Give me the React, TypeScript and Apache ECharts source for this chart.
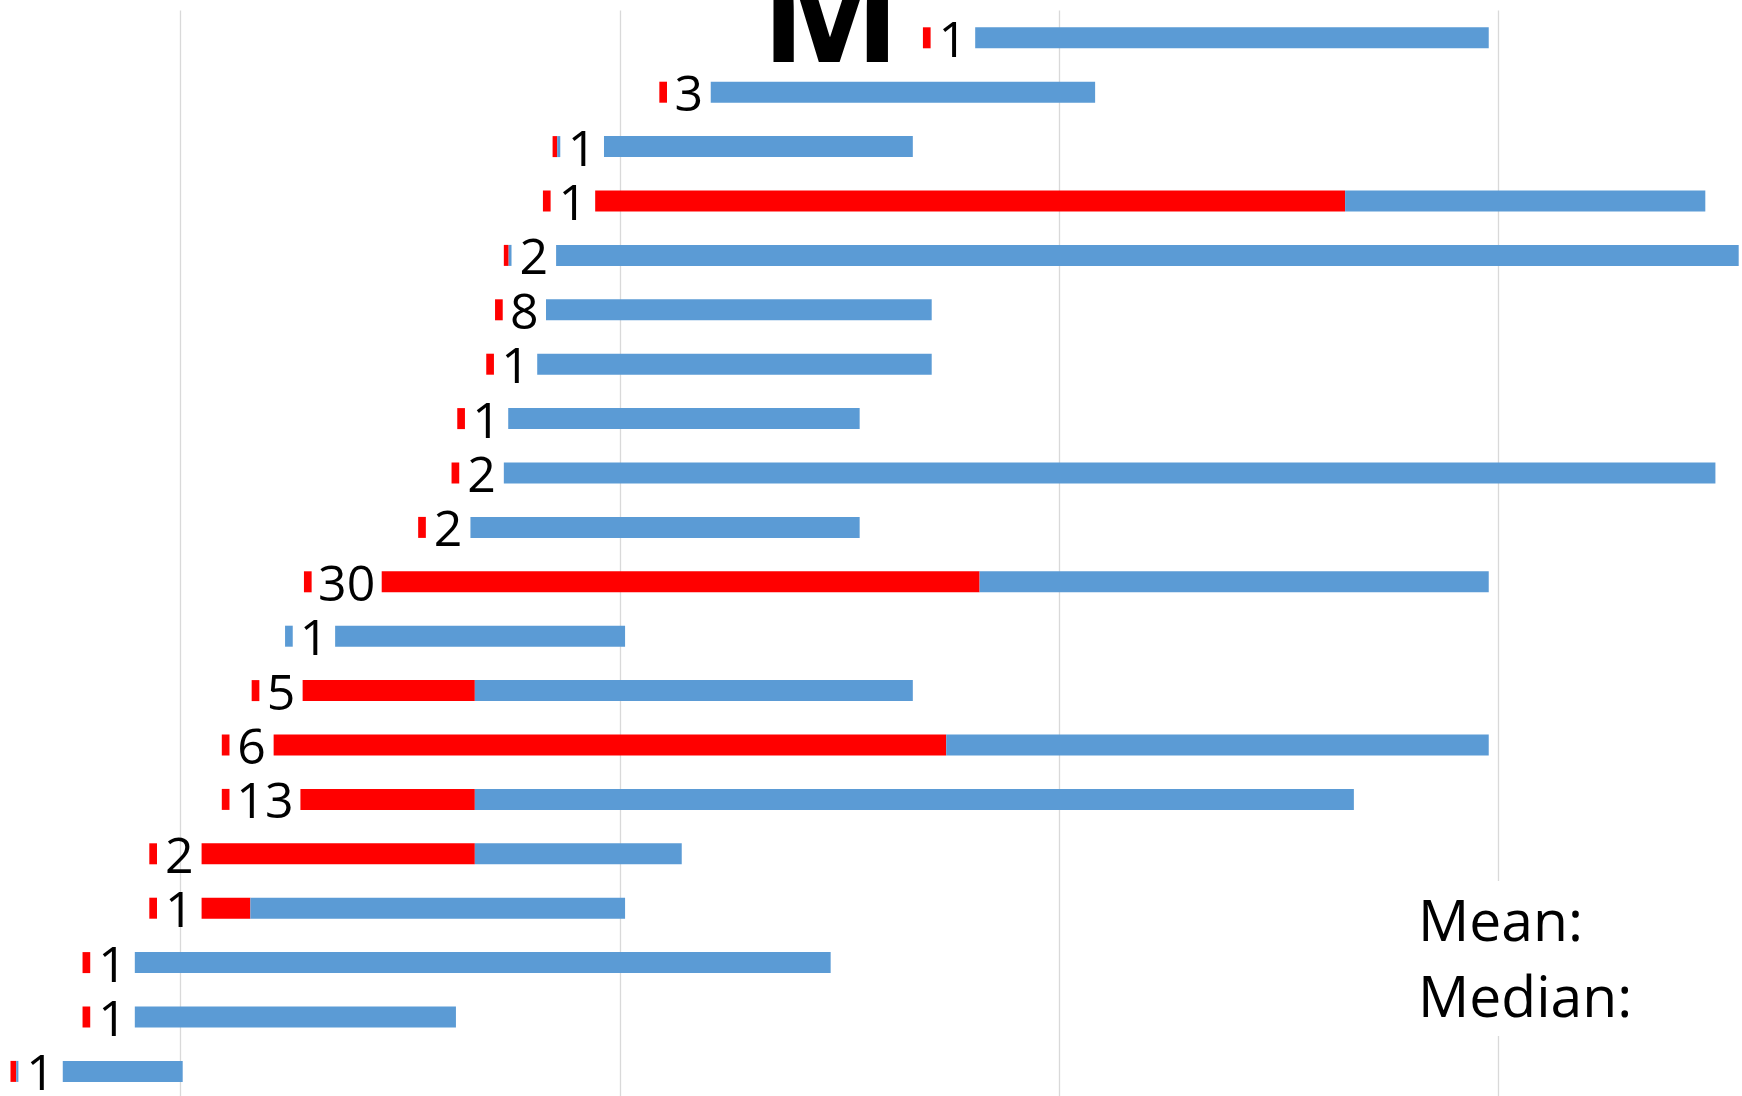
import React, { useEffect, useRef } from "react";
import * as echarts from "echarts";

// 20 rows, top to bottom
const rowNames = ["R1","R2","R3","R4","R5","R6","R7","R8","R9","R10","R11","R12","R13","R14","R15","R16","R17","R18","R19","R20"];
const counts = [1, 3, 1, 1, 2, 8, 1, 1, 2, 2, 30, 1, 5, 6, 13, 2, 1, 1, 1, 1];
// small marker at the start of each row
const markerStart = [26.9, 20.9, 18.47, 18.25, 17.36, 17.16, 16.96, 16.3, 16.17, 15.41, 12.81, 12.38, 11.62, 10.94, 10.94, 9.29, 9.29, 7.77, 7.77, 6.13];
const markerRed = [0.175, 0.175, 0.105, 0.175, 0.11, 0.175, 0.175, 0.175, 0.175, 0.175, 0.175, 0, 0.175, 0.175, 0.175, 0.175, 0.175, 0.175, 0.175, 0.13];
const markerBlue = [0, 0, 0.07, 0, 0.065, 0, 0, 0, 0, 0, 0, 0.175, 0, 0, 0, 0, 0, 0, 0, 0.05];
// main bar
const barStart = [28.09, 22.07, 19.64, 19.44, 18.55, 18.32, 18.12, 17.46, 17.36, 16.6, 14.58, 13.52, 12.78, 12.12, 12.73, 10.48, 10.48, 8.96, 8.96, 7.32];
const redEnd = [28.09, 22.07, 19.64, 36.51, 18.55, 18.32, 18.12, 17.46, 17.36, 16.6, 28.19, 13.52, 16.7, 27.43, 16.7, 16.7, 11.59, 8.96, 8.96, 7.32];
const barEnd = [39.78, 30.82, 26.67, 44.71, 45.47, 27.1, 27.1, 25.46, 44.94, 25.46, 39.78, 20.12, 26.67, 39.78, 36.71, 21.41, 20.12, 24.8, 16.27, 10.05];

const RED = "#FF0000";
const BLUE = "#5B9BD5";
const FONT = '"Open Sans", "Noto Sans", sans-serif';

export default function App() {
  const ref = useRef<HTMLDivElement>(null);
  useEffect(() => {
    if (!ref.current) return;
    const chart = echarts.init(ref.current, null, { renderer: "svg" });
    const offset = markerStart.slice();
    const mRed = markerRed.slice();
    const mBlue = markerBlue.slice();
    const gap = rowNames.map((_, i) => barStart[i] - markerStart[i] - markerRed[i] - markerBlue[i]);
    const red = rowNames.map((_, i) => redEnd[i] - barStart[i]);
    const blue = rowNames.map((_, i) => barEnd[i] - redEnd[i]);
    const unit = 43.93;
    const common = { type: "bar", stack: "s", barWidth: 21, silent: true };
    chart.setOption({
      animation: false,
      grid: {
        left: 180.5 - 10 * unit, width: 50 * unit, top: 10.6, height: 20 * 54.4,
        outerBoundsMode: "none", containLabel: false,
      },
      xAxis: {
        type: "value", min: 0, max: 50, interval: 10,
        axisLabel: { show: false }, axisLine: { show: false }, axisTick: { show: false },
        splitLine: { show: true, lineStyle: { color: "#D9D9D9", width: 1.3 } },
      },
      yAxis: { type: "category", data: rowNames, inverse: true, show: false },
      series: [
        { ...common, name: "offset", data: offset, itemStyle: { color: "transparent" } },
        { ...common, name: "markerRed", data: mRed, itemStyle: { color: RED } },
        { ...common, name: "markerBlue", data: mBlue, itemStyle: { color: BLUE } },
        {
          ...common, name: "gap", data: gap, itemStyle: { color: "transparent" },
          label: {
            show: true, position: "inside", formatter: (p: any) => String(counts[p.dataIndex]),
            color: "#000", fontSize: 50, lineHeight: 40, fontFamily: FONT, textBorderWidth: 0,
          },
        },
        { ...common, name: "red", data: red, itemStyle: { color: RED } },
        { ...common, name: "blue", data: blue, itemStyle: { color: BLUE } },
      ],
      graphic: [
        {
          type: "text", x: 760, y: 4, z: 100,
          style: { text: "M", font: `bold 150px ${FONT}`, fill: "#000", verticalAlign: "middle", align: "left" },
        },
        { type: "rect", shape: { x: 1405, y: 881, width: 300, height: 155 }, style: { fill: "#fff" }, z: 100 },
        {
          type: "text", x: 1418, y: 919, z: 101,
          style: { text: "Mean:", font: `57px ${FONT}`, fill: "#000", verticalAlign: "middle", align: "left" },
        },
        {
          type: "text", x: 1418, y: 995, z: 101,
          style: { text: "Median:", font: `57px ${FONT}`, fill: "#000", verticalAlign: "middle", align: "left" },
        },
      ],
    });
    return () => chart.dispose();
  }, []);
  return (
    <div
      ref={ref}
      style={{ position: "absolute", left: 0, top: 0, width: 1742, height: 1096, background: "#fff" }}
    />
  );
}
